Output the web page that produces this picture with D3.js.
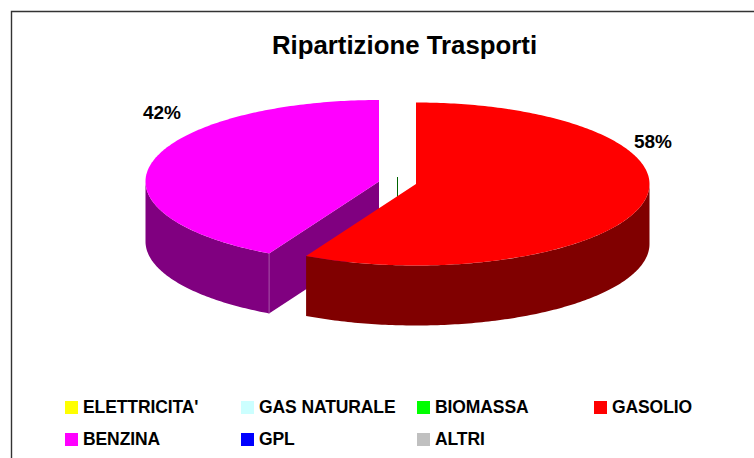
<!DOCTYPE html>
<html><head><meta charset="utf-8">
<script src="https://cdn.jsdelivr.net/npm/d3@7"></script>
<style>html,body{margin:0;padding:0;background:#fff}svg{display:block}text{font-family:"Liberation Sans",Arial,sans-serif;font-weight:bold;fill:#000}</style>
</head><body><svg id="c" width="754" height="458"></svg>
<script>
const categories=["ELETTRICITA'","GAS NATURALE","BIOMASSA","GASOLIO","BENZINA","GPL","ALTRI"];
const values=[0,0,0,57.8,42.2,0,0];
const topColors=["#ffff00","#ccffff","#00ff00","#ff0000","#ff00ff","#0000ff","#c0c0c0"];
const wallColors=["#808000","#668080","#008000","#800000","#800080","#000080","#606060"];
const titleText="Ripartizione Trasporti";

const W=754,H=458,svg=d3.select("#c");
svg.append("path").attr("d",`M11.5 ${H}V11.5H${W}`).attr("fill","none").attr("stroke","#333").attr("stroke-width",1.4);
svg.append("text").attr("x",404.5).attr("y",54).attr("text-anchor","middle").attr("font-size",25.8).text(titleText);

const rx=233.5,ry=81.5,depth=60;
const centers={3:[416,184],4:[379,181.5]};
const arcs=d3.pie().sort(null).value(d=>d)(values);
const pt=(c,a)=>[c[0]+rx*Math.sin(a),c[1]-ry*Math.cos(a)];
const line=d3.line();
function arcPts(c,a0,a1){const n=Math.max(2,Math.ceil((a1-a0)/0.015));
  return d3.range(n+1).map(i=>pt(c,a0+(a1-a0)*i/n));}

// zero-value leader mark
svg.append("line").attr("x1",397.5).attr("x2",397.5).attr("y1",177).attr("y2",200).attr("stroke","#006400").attr("stroke-width",1);

[4,3].forEach(i=>{
  const s=arcs[i],c=centers[i],a0=s.startAngle,a1=s.endAngle;
  const w0=Math.max(a0,Math.PI/2),w1=Math.min(a1,3*Math.PI/2);
  if(w1>w0){
    const rim=arcPts(c,w0,w1);
    const low=rim.map(p=>[p[0],p[1]+depth]).reverse();
    svg.append("path").attr("d",line(rim.concat(low))+"Z").attr("fill",wallColors[i]);
  }
  if(i===4){
    const e=pt(c,a0);
    svg.append("path").attr("d",line([c,e,[e[0],e[1]+depth],[c[0],c[1]+depth]])+"Z").attr("fill",wallColors[i]);
    svg.append("line").attr("x1",e[0]).attr("x2",e[0]).attr("y1",e[1]).attr("y2",e[1]+depth).attr("stroke","#b060b0").attr("stroke-width",0.8);
  }
  svg.append("path").attr("d",line([c].concat(arcPts(c,a0,a1)))+"Z").attr("fill",topColors[i]);
});

// percentage labels
const labelPos={3:[653,148],4:[162,119]};
[3,4].forEach(i=>{
  svg.append("text").attr("x",labelPos[i][0]).attr("y",labelPos[i][1]).attr("text-anchor","middle").attr("font-size",19)
    .text(Math.round(values[i]/d3.sum(values)*100)+"%");
});

// legend
const colX=d3.scaleOrdinal().domain([0,1,2,3]).range([65,241,417,594]);
const rowY=d3.scaleOrdinal().domain([0,1]).range([401,433]);
categories.forEach((t,i)=>{
  const col=i<4?i:i-4,row=i<4?0:1;
  svg.append("rect").attr("x",colX(col)).attr("y",rowY(row)).attr("width",13).attr("height",13).attr("fill",topColors[i]);
  svg.append("text").attr("x",colX(col)+18).attr("y",rowY(row)+11.5).attr("font-size",17.5).attr("letter-spacing",-0.1).text(t);
});
</script></body></html>
